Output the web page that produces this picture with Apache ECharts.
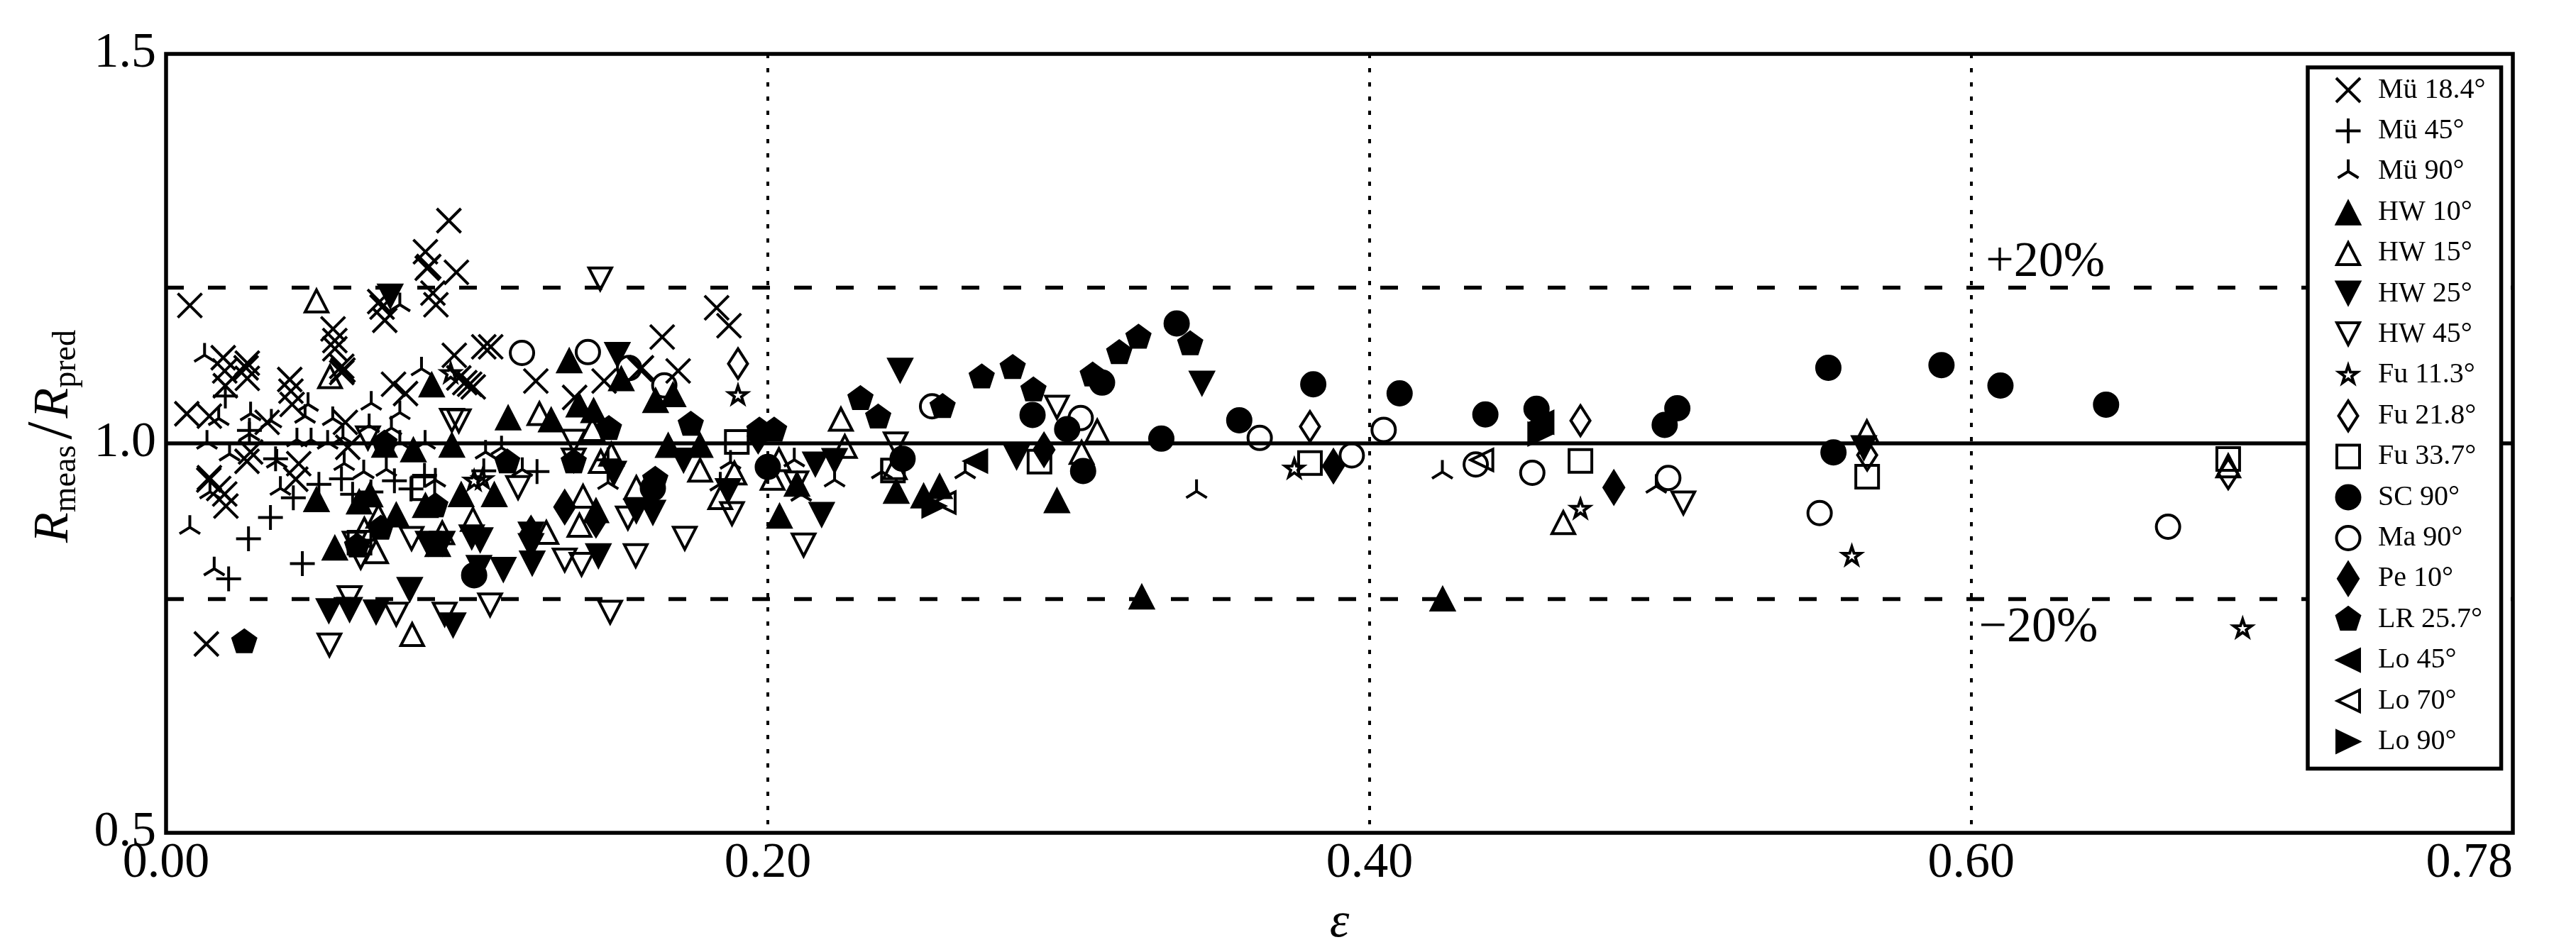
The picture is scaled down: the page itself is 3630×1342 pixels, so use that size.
<!DOCTYPE html>
<html><head><meta charset="utf-8">
<style>html,body{margin:0;padding:0;background:#fff}#c{width:3630px;height:1342px}</style>
<script src="https://cdn.jsdelivr.net/npm/echarts@6/dist/echarts.min.js"></script>
</head><body><div id="c"></div>
<script>
const xTicks=[0,0.2,0.4,0.6,0.78];
const yTicks=[0.5,1.0,1.5];
const mu184=[[.094,1.286],[.0862,1.246],[.0868,1.2248],[.0873,1.227],[.0965,1.2196],[.0887,1.193],[.0897,1.178],[.0079,1.177],[.0555,1.147],[.0561,1.132],[.071,1.182],[.0718,1.175],[.0727,1.158],[.0561,1.1215],[.0584,1.091],[.0588,1.094],[.0584,1.099],[.019,1.11],[.0195,1.093],[.027,1.103],[.027,1.0835],[.0266,1.097],[.0197,1.074],[.0411,1.082],[.0419,1.05],[.0415,1.067],[.0756,1.076],[.0796,1.064],[.0958,1.113],[.0069,1.038],[.0144,1.035],[.0596,1.027],[.0336,1.027],[.0269,.977],[.0281,.989],[.0441,.974],[.0431,.954],[.0142,.953],[.0144,.956],[.0195,.935],[.0199,.9195],[.0175,.942],[.0604,.995],[.0134,.7425],[.1649,1.1365],[.1702,1.093],[.183,1.174],[.1871,1.151],[.1229,1.08],[.1358,1.059],[.1456,1.08],[.1056,1.124],[.1079,1.124],[.1575,1.095],[.158,1.097],[.0993,1.078],[.1009,1.076],[.1021,1.0725],[.0973,1.084]];
const mu45=[[.0508,.9475],[.0583,.9544],[.062,.9347],[.0681,.9377],[.0759,.952],[.0814,.9414],[.0859,.959],[.0423,.9301],[.0347,.9049],[.0274,.8776],[.0453,.8457],[.0208,.826],[.0197,1.0607],[.0277,1.0167],[.0364,.9803],[.1233,.9639],[.1056,.9647],[.1469,.9788]];
const mu90=[[.1842,.9479],[.1876,.9758],[.1469,.9498],[.1184,.9665],[.1062,.9888],[.1115,.9944],[.0128,1.1133],[.0175,1.0319],[.0281,1.038],[.0277,1.0121],[.035,1.0288],[.0462,1.0349],[.0472,1.0501],[.0554,1.0319],[.0682,1.0516],[.0777,1.0395],[.0849,1.0957],[.0675,1.0228],[.0749,1.0197],[.0136,1.0015],[.0211,.9863],[.0537,1.0015],[.0861,1.0015],[.0777,1.0015],[.0592,.9742],[.0657,.9636],[.0732,.9666],[.038,.9423],[.0146,.9377],[.0895,.9529],[.0079,.8922],[.016,.839],[.0368,.9772],[.0435,1.0046],[.0482,1.0046],[.0588,1.0076],[.0777,1.178],[.2088,.9788],[.2222,.953],[.2379,.9636],[.2656,.9636],[.3425,.9384],[.2111,.9347],[.4242,.9632],[.4953,.945]];
const hw10=[[.05,.9286],[.0642,.9256],[.0678,.9347],[.0765,.9089],[.0822,.9924],[.0561,.8664],[.0883,1.0759],[.0862,.921],[.095,.9985],[.0903,.8709],[.0726,.9985],[.1137,1.0335],[.134,1.1068],[.128,1.0309],[.1372,1.0502],[.1421,1.0428],[.1513,1.0837],[.1627,1.0558],[.1685,1.0632],[.1669,.9981],[.1775,.9981],[.1429,.9144],[.1091,.9349],[.0981,.9349],[.2039,.9074],[.2097,.9484],[.2427,.9393],[.2518,.9332],[.2571,.9454],[.2961,.9272],[.3243,.8036],[.4243,.8009]];
const hw15=[[.0818,.7555],[.0545,1.0866],[.0698,.8618],[.0659,.8907],[.0918,.8861],[.0706,.9074],[.05,1.1838],[.1241,1.0391],[.1417,1.0186],[.1374,.8958],[.1264,.8865],[.1386,.933],[.1563,.9442],[.1775,.9665],[.1842,.9312],[.1889,.9628],[.1445,.9777],[.148,.987],[.102,.9033],[.2243,1.0319],[.2256,.997],[.3095,1.0167],[.2422,.9697],[.3043,.9894],[.2037,.98],[.2016,.956],[.4644,.8992],[.5653,1.0158],[.6854,.972]];
const hw25=[[.0745,1.1883],[.0541,.7844],[.061,.7859],[.0698,.7828],[.081,.8117],[.0954,.7661],[.0871,.8709],[.0918,.8709],[.15,1.1135],[.172,.9777],[.1563,.9126],[.1618,.9107],[.1868,.9386],[.1488,.9609],[.1217,.8456],[.1121,.8374],[.1016,.8791],[.1044,.8754],[.104,.84],[.1437,.8549],[.1213,.8828],[.1213,.868],[.244,1.0932],[.3443,1.0765],[.2827,.9818],[.2158,.9727],[.2222,.9772],[.2179,.908],[.5643,.9936]];
const hw45=[[.0543,.7403],[.061,.8011],[.0765,.7798],[.0926,.7798],[.0647,.8527],[.0671,1.0061],[.0816,.877],[.095,1.0288],[.0627,.8709],[.1443,1.2102],[.0973,1.0279],[.117,.9423],[.1355,.9777],[.1355,1.0019],[.1535,.9033],[.1561,.8549],[.1724,.8772],[.1881,.9089],[.1325,.8493],[.1381,.8438],[.1077,.7917],[.1476,.7824],[.2961,1.0455],[.2119,.8686],[.2425,.9985],[.2095,.9484],[.5043,.9227]];
const fu113=[[.0946,1.0896],[.1024,.9516],[.1052,.9535],[.1901,1.0614],[.375,.967],[.4701,.9154],[.5603,.8551],[.6902,.762]];
const fu218=[[.1901,1.1023],[.3802,1.0216],[.4701,1.0292],[.5654,.985],[.6854,.961]];
const fu337=[[.0643,.8724],[.0855,.9423],[.1897,1.0019],[.2416,.9651],[.2903,.9766],[.3802,.9747],[.4701,.9775],[.5654,.9571],[.6854,.98]];
const sc90=[[.1024,.8307],[.1618,.9423],[.2,.9697],[.2448,.9803],[.288,1.0364],[.2995,1.0182],[.3048,.9645],[.3111,1.078],[.3308,1.0061],[.3359,1.1539],[.3567,1.0297],[.3813,1.0758],[.41,1.0642],[.4385,1.0371],[.4555,1.0444],[.4981,1.0237],[.5023,1.0451],[.5525,1.0971],[.5542,.9884],[.5901,1.1005],[.6097,1.0742],[.6448,1.0497]];
const ma90=[[.1183,1.1161],[.1402,1.1172],[.1539,1.0967],[.1656,1.0744],[.2546,1.0476],[.304,1.0325],[.3635,1.007],[.3941,.9845],[.4047,1.0174],[.4353,.9729],[.4541,.9623],[.4993,.9556],[.5496,.9105],[.6654,.893]];
const pe10=[[.1325,.9182],[.1213,.8847],[.1429,.9014],[.1968,1.0093],[.2918,.9918],[.388,.9708],[.4812,.9434]];
const lr257=[[.026,.7449],[.0726,1.0],[.0635,.8679],[.0714,.8907],[.0895,.9195],[.1472,1.0186],[.1744,1.0242],[.1355,.9758],[.1134,.9758],[.1626,.9535],[.1972,1.0167],[.2021,1.0167],[.2308,1.0571],[.2367,1.0334],[.2581,1.047],[.2711,1.085],[.2814,1.0971],[.2883,1.0683],[.308,1.0874],[.3168,1.1162],[.3232,1.136],[.3404,1.1275]];
const lo45=[[.269,.9772],[.4572,1.0271]];
const lo70=[[.2585,.9241],[.4372,.9787]];
const lo90=[[.2553,.9196],[.4567,1.0119]];
const refSolid=[[0,1.0],[0.78,1.0]];
const refUpper=[[0,1.2],[0.78,1.2]];
const refLower=[[0,0.8],[0.78,0.8]];
const notes=[[0.6047,1.2315,'+20%'],[0.6024,0.7622,'\u221220%']];

const BOX='path://M0 0M56 56';
const shapes={
 x:BOX+'M11 11L45 45M11 45L45 11',
 plus:BOX+'M10.5 28L45.5 28M28 10.5L28 45.5',
 y:BOX+'M28 28L28 11M28 28L13.5 37M28 28L42.5 37',
 up:BOX+'M28 13.5L44 44.5L12 44.5Z',
 dn:BOX+'M12 11.5L44 11.5L28 42.5Z',
 star:BOX+'M28 14.5L31.1 23.7L40.8 23.8L33 29.6L35.9 38.9L28 33.2L20.1 38.9L23 29.6L15.2 23.8L24.9 23.7Z',
 diaO:BOX+'M28 7L41.5 28L28 49L14.5 28Z',
 sq:BOX+'M12 12L44 12L44 44L12 44Z',
 cir:BOX+'M28 11.5A16.5 16.5 0 1 1 27.99 11.5Z',
 diaF:BOX+'M28 5.5L42 28L28 50.5L14 28Z',
 pent:BOX+'M28 11L44.2 22.75L38 41.75L18 41.75L11.8 22.75Z',
 lt:BOX+'M13 28L44 13L44 43Z',
 rt:BOX+'M43 28L12 13L12 43Z'
};
const FONT='Liberation Serif';
const STROKE=4;
const rows=[
 ['Mü 18.4°',mu184,'x',0],['Mü 45°',mu45,'plus',0],['Mü 90°',mu90,'y',0],
 ['HW 10°',hw10,'up',1],['HW 15°',hw15,'up',0],['HW 25°',hw25,'dn',1],['HW 45°',hw45,'dn',0],
 ['Fu 11.3°',fu113,'star',0],['Fu 21.8°',fu218,'diaO',0],['Fu 33.7°',fu337,'sq',0],
 ['SC 90°',sc90,'cir',1],['Ma 90°',ma90,'cir',0],['Pe 10°',pe10,'diaF',1],['LR 25.7°',lr257,'pent',1],
 ['Lo 45°',lo45,'lt',1],['Lo 70°',lo70,'lt',0],['Lo 90°',lo90,'rt',1]
];
const markSeries=rows.map(([name,data,sym,filled])=>({
 type:'scatter',name,data,symbol:shapes[sym],symbolSize:56,z:2,silent:true,
 itemStyle:{color:filled?'#000':'rgba(0,0,0,0)',borderColor:'#000',borderWidth:STROKE,opacity:1}
}));
const refLine=(data,width,type)=>({type:'line',data,showSymbol:false,silent:true,z:5,
 lineStyle:{color:'#000',width,type,opacity:1,cap:'butt'}});
const chart=echarts.init(document.getElementById('c'),null,{renderer:'canvas'});
chart.setOption({
 animation:false,backgroundColor:'#fff',
 grid:{left:234,top:76,width:3307,height:1098,show:true,borderColor:'#000',borderWidth:5.5,backgroundColor:'#fff',outerBoundsMode:'none'},
 xAxis:{type:'value',min:0,max:0.78,interval:0.2,name:'\u03b5',nameLocation:'middle',nameGap:93,
  nameTextStyle:{fontFamily:FONT,fontStyle:'italic',fontSize:70,color:'#000'},
  axisLine:{show:false},axisTick:{show:false},
  axisLabel:{show:true,fontFamily:FONT,fontSize:70,color:'#000',margin:9,showMinLabel:true,showMaxLabel:true,alignMaxLabel:'right',formatter:v=>v.toFixed(2),hideOverlap:false},
  splitLine:{show:true,lineStyle:{color:'#000',width:4,type:[6,14]}}},
 yAxis:{type:'value',min:0.5,max:1.5,interval:0.5,name:'{i|R}{s|meas}{d|/}{i|R}{s|pred}',nameLocation:'middle',nameRotate:90,nameGap:106,
  nameTextStyle:{fontFamily:FONT,color:'#000',padding:[0,0,0,20],rich:{
    i:{fontFamily:FONT,fontStyle:'italic',fontSize:70,color:'#000',lineHeight:90},
    d:{fontFamily:FONT,fontSize:90,color:'#000',lineHeight:90,padding:[0,5,0,8]},
    s:{fontFamily:FONT,fontSize:46,color:'#000',lineHeight:90,padding:[34,0,0,0]}}},
  axisLine:{show:false},axisTick:{show:false},
  axisLabel:{show:true,fontFamily:FONT,fontSize:70,color:'#000',margin:14,formatter:v=>v.toFixed(1),padding:[0,0,10,0]},
  splitLine:{show:false}},
 legend:{show:true,orient:'vertical',left:3252,top:95,itemWidth:74,itemHeight:56,itemGap:-2.6,padding:[2,22,8,27],
  selectedMode:false,backgroundColor:'#fff',borderColor:'#000',borderWidth:5.5,z:10,symbolKeepAspect:true,
  textStyle:{fontFamily:FONT,fontSize:40,color:'#000'},
  itemStyle:{borderWidth:'inherit',borderColor:'inherit',color:'inherit'},
  data:rows.map(r=>({name:r[0],icon:shapes[r[2]]}))},
 series:[...markSeries,refLine(refSolid,5.5,'solid'),refLine(refUpper,5.5,[25,34]),refLine(refLower,5.5,[25,34]),
  {type:'scatter',name:'notes',data:notes.map(n=>({value:[n[0],n[1]],label:{formatter:n[2]}})),symbolSize:1,z:6,silent:true,
   itemStyle:{color:'rgba(0,0,0,0)',opacity:1},
   label:{show:true,position:'right',distance:0,fontFamily:FONT,fontSize:70,color:'#000'}}]
});
</script></body></html>
